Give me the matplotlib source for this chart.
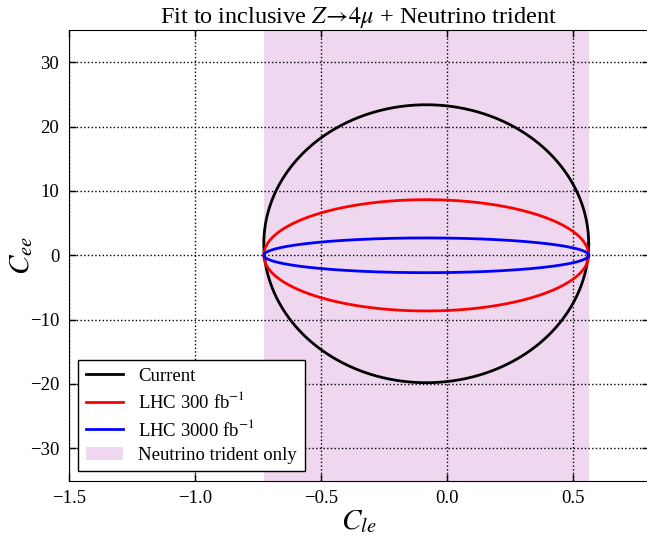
import numpy as np
import matplotlib
matplotlib.use("Agg")
import matplotlib.pyplot as plt
from matplotlib.patches import Patch

plt.rcParams['font.family'] = ['Liberation Serif', 'DejaVu Serif']
plt.rcParams['mathtext.fontset'] = 'stix'

# --- data ---
series_labels = ["Current", "LHC 300 fb$^{-1}$", "LHC 3000 fb$^{-1}$"]
trident_cle_min = -0.727
trident_cle_max = 0.562
cee_top = [23.4, 8.65, 2.7]
cee_bottom = [-19.8, -8.65, -2.7]
x_ticks = [-1.5, -1.0, -0.5, 0.0, 0.5]
y_ticks = [-30, -20, -10, 0, 10, 20, 30]

colors = ["black", "red", "blue"]

fig = plt.figure(figsize=(6.47, 5.37), dpi=100)
ax = fig.add_axes([0.1066, 0.1052, 0.896, 0.8387])

ax.axvspan(trident_cle_min, trident_cle_max, color='#efd8ef', lw=0, zorder=0)

theta = np.linspace(0, 2 * np.pi, 721)
cx = 0.5 * (trident_cle_min + trident_cle_max)
a = 0.5 * (trident_cle_max - trident_cle_min)
for lab, top, bot, c in zip(series_labels, cee_top, cee_bottom, colors):
    cy = 0.5 * (top + bot)
    b = 0.5 * (top - bot)
    ax.plot(cx + a * np.cos(theta), cy + b * np.sin(theta), color=c, lw=2, label=lab, zorder=3)

ax.set_xlim(-1.5, 0.8)
ax.set_ylim(-35, 35)
ax.set_xticks(x_ticks)
ax.set_yticks(y_ticks)
ax.set_xticklabels([f"{v:.1f}".replace('-', '\u2212') for v in x_ticks])
ax.set_yticklabels([f"{v}".replace('-', '\u2212') for v in y_ticks])
ax.tick_params(direction='in', top=True, right=True, length=5, width=1, labelsize=13.5, pad=7)
ax.grid(True, color='black', linestyle=':', linewidth=1)
ax.set_axisbelow(False)

ax.set_xlabel("$C_{le}$", fontsize=21, labelpad=1)
ax.set_ylabel("$C_{ee}$", fontsize=21, va='center', ha='center')
ax.yaxis.set_label_coords(-0.082, 0.5)
ax.set_title(r"Fit to inclusive $Z\!\rightarrow\!4\mu$ + Neutrino trident", fontsize=17.5, pad=5)

handles, labels = ax.get_legend_handles_labels()
handles.append(Patch(facecolor='#efd8ef', edgecolor='none'))
labels.append("Neutrino trident only")
leg = ax.legend(handles, labels, loc='lower left', fontsize=13.5, fancybox=False,
                edgecolor='black', framealpha=1, borderaxespad=0.5, handlelength=2.0,
                labelspacing=0.35)
leg.get_frame().set_linewidth(1)

fig.savefig("out.png", dpi=100)
